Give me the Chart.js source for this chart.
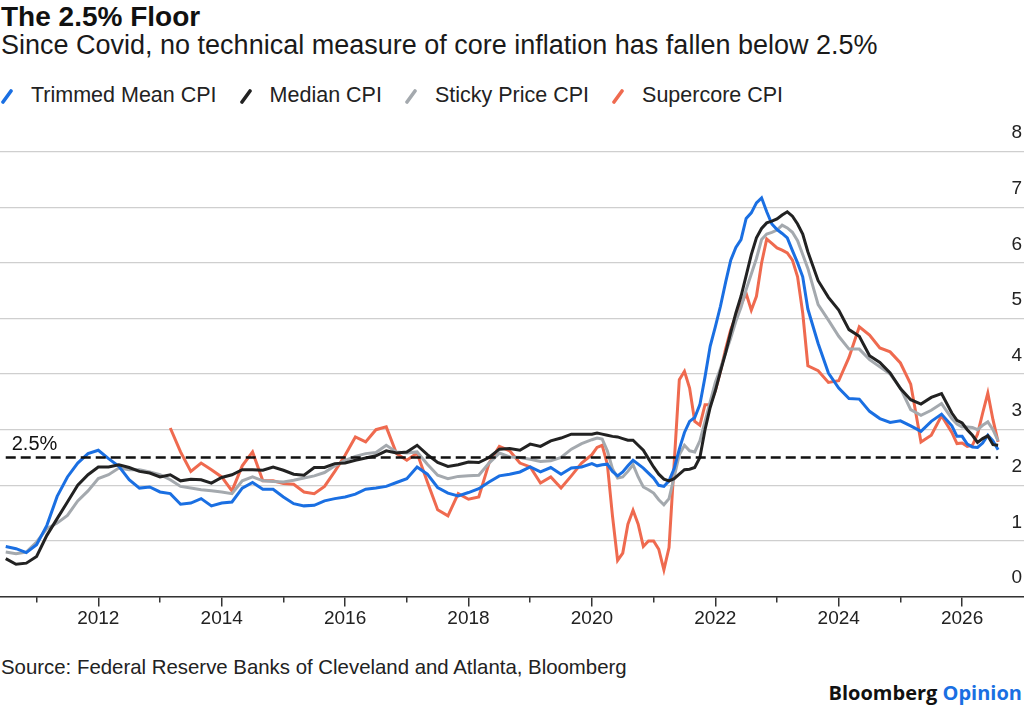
<!DOCTYPE html>
<html>
<head>
<meta charset="utf-8">
<script src="https://cdn.jsdelivr.net/npm/chart.js@4.4.1/dist/chart.umd.min.js"></script>
<style>
  html, body { margin: 0; padding: 0; background: #fff; }
  body { width: 1024px; height: 711px; position: relative; overflow: hidden;
         font-family: "Liberation Sans", Arial, sans-serif; color: #111; }
  #title { position: absolute; left: 1px; top: 3px; font-size: 28px; font-weight: bold; line-height: 28px; }
  #subtitle { position: absolute; left: 1px; top: 32px; font-size: 27px; line-height: 27px; color: #1a1a1a; }
  #legend { position: absolute; left: 1px; top: 85px; display: flex; font-size: 21.5px; line-height: 21.5px; color: #222; }
  #legend .item { display: flex; align-items: center; margin-right: 23px; }
  #legend svg { margin-right: 18px; }
  #wrap { position: absolute; left: 0; top: 120px; width: 1024px; height: 530px; }
  #source { position: absolute; left: 1px; top: 657px; font-size: 20.4px; line-height: 20.4px; color: #222; }
  #brand { position: absolute; right: 2px; top: 683px; font-family: "Open Sans", Lato, sans-serif;
           font-weight: bold; font-size: 20px; line-height: 20px; color: #111; }
  #brand span { color: #1a6fe2; }
</style>
</head>
<body>
<div id="title">The 2.5% Floor</div>
<div id="subtitle">Since Covid, no technical measure of core inflation has fallen below 2.5%</div>
<div id="legend"></div>
<div id="wrap"><canvas id="chart" width="1024" height="530"></canvas></div>
<div id="source">Source: Federal Reserve Banks of Cleveland and Atlanta, Bloomberg</div>
<div id="brand">Bloomberg <span>Opinion</span></div>
<script>
// sample dates (every other month, monthly through the Covid swing and the latest year)
const dates = [
  '2010-07', '2010-09', '2010-11',
  '2011-01', '2011-03', '2011-05', '2011-07', '2011-09', '2011-11',
  '2012-01', '2012-03', '2012-05', '2012-07', '2012-09', '2012-11',
  '2013-01', '2013-03', '2013-05', '2013-07', '2013-09', '2013-11',
  '2014-01', '2014-03', '2014-05', '2014-07', '2014-09', '2014-11',
  '2015-01', '2015-03', '2015-05', '2015-07', '2015-09', '2015-11',
  '2016-01', '2016-03', '2016-05', '2016-07', '2016-09', '2016-11',
  '2017-01', '2017-03', '2017-05', '2017-07', '2017-09', '2017-11',
  '2018-01', '2018-03', '2018-05', '2018-07', '2018-09', '2018-11',
  '2019-01', '2019-03', '2019-05', '2019-07', '2019-09', '2019-11',
  '2020-01', '2020-02', '2020-03', '2020-04', '2020-05', '2020-06',
  '2020-07', '2020-08', '2020-09', '2020-10', '2020-11', '2020-12',
  '2021-01', '2021-02', '2021-03', '2021-04', '2021-05', '2021-06',
  '2021-07', '2021-08', '2021-09', '2021-10', '2021-11', '2021-12',
  '2022-01', '2022-02', '2022-03', '2022-04', '2022-05', '2022-06',
  '2022-07', '2022-08', '2022-09', '2022-10', '2022-11', '2022-12',
  '2023-01', '2023-02', '2023-03', '2023-04', '2023-05', '2023-06',
  '2023-07', '2023-09', '2023-11',
  '2024-01', '2024-03', '2024-05', '2024-07', '2024-09', '2024-11',
  '2025-01', '2025-03', '2025-05', '2025-07', '2025-09',
  '2025-11', '2025-12', '2026-01', '2026-02', '2026-03', '2026-04',
  '2026-05', '2026-06', '2026-07', '2026-08'
];

const trimmedMean = [
  0.90, 0.86, 0.79,
  0.93, 1.28, 1.80, 2.15, 2.40, 2.57,
  2.63, 2.48, 2.34, 2.10, 1.95, 1.97,
  1.88, 1.85, 1.66, 1.68, 1.76, 1.63,
  1.68, 1.70, 1.95, 2.05, 1.93, 1.93,
  1.79, 1.67, 1.63, 1.64, 1.72, 1.76,
  1.79, 1.84, 1.93, 1.95, 1.98, 2.05,
  2.12, 2.33, 2.20, 1.96, 1.86, 1.81,
  1.87, 1.94, 2.06, 2.17, 2.20, 2.24,
  2.33, 2.24, 2.32, 2.20, 2.31, 2.33,
  2.39, 2.35, 2.37, 2.38, 2.25, 2.17, 2.24, 2.35, 2.45, 2.38, 2.31, 2.22,
  2.13, 2.00, 1.98, 2.08, 2.30, 2.65, 2.95, 3.15, 3.22, 3.45, 3.95, 4.50,
  4.85, 5.22, 5.65, 6.05, 6.28, 6.42, 6.80, 6.90, 7.08, 7.17, 6.92, 6.70,
  6.60, 6.53, 6.45, 6.22, 6.00, 5.75,
  5.17, 4.55, 4.02,
  3.75, 3.56, 3.55, 3.33, 3.20, 3.13,
  3.16, 3.07, 2.97, 3.15, 3.28,
  3.07, 2.88, 2.88, 2.74, 2.69, 2.68, 2.76, 2.90, 2.80, 2.64
];

const medianCpi = [
  0.68, 0.58, 0.60,
  0.72, 1.10, 1.40, 1.70, 2.00, 2.19,
  2.33, 2.33, 2.37, 2.32, 2.25, 2.22,
  2.15, 2.19, 2.08, 2.11, 2.10, 2.04,
  2.14, 2.19, 2.28, 2.28, 2.27, 2.33,
  2.27, 2.20, 2.18, 2.32, 2.32, 2.39,
  2.40, 2.45, 2.49, 2.53, 2.62, 2.58,
  2.60, 2.72, 2.55, 2.41, 2.34, 2.37,
  2.42, 2.41, 2.50, 2.65, 2.66, 2.63,
  2.74, 2.70, 2.80, 2.85, 2.92, 2.92,
  2.92, 2.94, 2.92, 2.90, 2.88, 2.87, 2.84, 2.81, 2.81, 2.72, 2.63, 2.48,
  2.33, 2.20, 2.11, 2.08, 2.12, 2.20, 2.28, 2.29, 2.32, 2.50, 3.00, 3.40,
  3.70, 4.05, 4.38, 4.75, 5.10, 5.40, 5.77, 6.15, 6.45, 6.62, 6.72, 6.75,
  6.79, 6.86, 6.92, 6.84, 6.70, 6.52,
  6.20, 5.68, 5.38,
  5.15, 4.80, 4.68, 4.33, 4.21, 4.02,
  3.74, 3.54, 3.46, 3.58, 3.65,
  3.30, 3.17, 3.12, 3.00, 2.90, 2.77, 2.84, 2.89, 2.73, 2.72
];

const stickyPrice = [
  0.80, 0.77, 0.80,
  0.98, 1.22, 1.32, 1.46, 1.72, 1.90,
  2.12, 2.19, 2.31, 2.28, 2.28, 2.24,
  2.19, 2.10, 1.98, 1.95, 1.92, 1.90,
  1.88, 1.85, 2.08, 2.15, 2.08, 2.07,
  2.06, 2.09, 2.13, 2.17, 2.23, 2.35,
  2.45, 2.52, 2.57, 2.59, 2.72, 2.60,
  2.58, 2.60, 2.38, 2.18, 2.12, 2.16,
  2.17, 2.18, 2.40, 2.58, 2.51, 2.50,
  2.47, 2.43, 2.44, 2.50, 2.65, 2.75,
  2.82, 2.85, 2.83, 2.62, 2.30, 2.13, 2.15, 2.25, 2.37, 2.15, 1.97, 1.92,
  1.86, 1.74, 1.65, 1.76, 2.15, 2.55, 2.72, 2.62, 2.60, 2.80, 3.15, 3.50,
  3.85, 4.10, 4.38, 4.65, 4.95, 5.20, 5.52, 5.80, 6.08, 6.42, 6.52, 6.55,
  6.59, 6.68, 6.63, 6.55, 6.40, 6.15,
  5.90, 5.25, 4.97,
  4.68, 4.45, 4.45, 4.26, 4.13, 4.00,
  3.75, 3.36, 3.26, 3.35, 3.47,
  3.20, 3.10, 3.05, 3.05, 3.04, 3.00, 3.08, 3.14, 3.00, 2.80
];

const supercore = [
  null, null, null,
  null, null, null, null, null, null,
  null, null, null, null, null, null,
  null, 3.03, 2.60, 2.25, 2.40, 2.28,
  2.15, 1.90, 2.35, 2.60, 2.08, 2.08,
  2.03, 2.02, 1.88, 1.85, 1.98, 2.25,
  2.54, 2.87, 2.78, 3.00, 3.05, 2.57,
  2.45, 2.58, 2.06, 1.56, 1.45, 1.85,
  1.75, 1.79, 2.40, 2.70, 2.62, 2.40,
  2.33, 2.04, 2.15, 1.95, 2.17, 2.40,
  2.55, 2.68, 2.72, 2.38, 1.45, 0.65, 0.78, 1.30, 1.55, 1.30, 0.90, 1.00,
  1.00, 0.85, 0.48, 0.88, 2.40, 3.90, 4.05, 3.75, 3.15, 3.08, 3.45, 3.45,
  3.70, 4.05, 4.45, 4.80, 5.05, 5.25, 5.45, 5.15, 5.40, 6.00, 6.43, 6.35,
  6.27, 6.23, 6.18, 6.05, 5.75, 5.10,
  4.15, 4.06, 3.85,
  3.88, 4.30, 4.85, 4.70, 4.47, 4.40,
  4.20, 3.82, 2.78, 2.90, 3.25,
  2.95, 2.75, 2.76, 2.70, 2.72, 2.92, 3.30, 3.66, 3.18, 2.78
];

const floorLevel = 2.5;
const floorLabel = '2.5%';
const majorYears = [2012, 2014, 2016, 2018, 2020, 2022, 2024, 2026];
const minorYears = [2011, 2013, 2015, 2017, 2019, 2021, 2023, 2025];

const seriesNames = ['Trimmed Mean CPI', 'Median CPI', 'Sticky Price CPI', 'Supercore CPI'];
const seriesValues = [trimmedMean, medianCpi, stickyPrice, supercore];
const seriesColors = ['#1a6fe2', '#222222', '#a4a9ae', '#ef6a4f'];
// drawing order, top first: median, trimmed, sticky, supercore
const drawOrder = [1, 0, 2, 3];

function toYear(d) {
  var parts = d.split('-');
  return Number(parts[0]) + (Number(parts[1]) - 1) / 12;
}

function makePoints(values) {
  return dates.map(function (d, i) { return { x: toYear(d), y: values[i] }; });
}

// legend
var legend = document.getElementById('legend');
seriesNames.forEach(function (name, i) {
  var item = document.createElement('div');
  item.className = 'item';
  item.innerHTML = '<svg width="12" height="16" viewBox="0 0 12 16">' +
    '<line x1="2" y1="14" x2="10" y2="3" stroke="' + seriesColors[i] +
    '" stroke-width="3.6" stroke-linecap="round"/></svg><span>' + name + '</span>';
  legend.appendChild(item);
});

var datasets = [{
  label: 'floor',
  data: [{ x: toYear(dates[0]), y: floorLevel }, { x: toYear(dates[dates.length - 1]), y: floorLevel }],
  borderColor: '#111',
  borderWidth: 2.5,
  borderDash: [10, 5],
  pointRadius: 0
}];
drawOrder.forEach(function (i) {
  datasets.push({
    label: seriesNames[i],
    data: makePoints(seriesValues[i]),
    borderColor: seriesColors[i],
    borderWidth: 3,
    pointRadius: 0,
    tension: 0,
    spanGaps: false
  });
});

const floorText = {
  id: 'floorText',
  afterDatasetsDraw: function (chart) {
    var ctx = chart.ctx;
    var x = chart.scales.x.getPixelForValue(toYear(dates[0]));
    var y = chart.scales.y.getPixelForValue(floorLevel);
    ctx.save();
    ctx.font = '20px "Liberation Sans", Arial, sans-serif';
    ctx.fillStyle = '#111';
    ctx.textBaseline = 'alphabetic';
    ctx.fillText(floorLabel, x + 6, y - 8);
    ctx.restore();
  }
};

const xMin = 2010.407;
const xMax = 2027.003;

new Chart(document.getElementById('chart'), {
  type: 'line',
  data: { datasets: datasets },
  options: {
    responsive: false,
    animation: false,
    layout: { padding: { top: 31.7, left: 0, right: 0, bottom: 0 } },
    plugins: { legend: { display: false }, tooltip: { enabled: false } },
    scales: {
      x: {
        type: 'linear', position: 'bottom', weight: 1,
        min: xMin, max: xMax,
        afterBuildTicks: function (s) { s.ticks = majorYears.map(function (v) { return { value: v }; }); },
        afterFit: function (s) { s.height = 53.5; },
        grid: { drawOnChartArea: false, drawTicks: true, tickLength: 10, color: '#333', lineWidth: 1.5 },
        border: { display: true, color: '#333', width: 1.5 },
        ticks: {
          autoSkip: false, maxRotation: 0, padding: 1, color: '#222',
          font: { family: '"Liberation Sans", Arial, sans-serif', size: 19 },
          callback: function (v) { return String(v); }
        }
      },
      xMinor: {
        type: 'linear', position: 'bottom', weight: 0,
        min: xMin, max: xMax,
        afterBuildTicks: function (s) { s.ticks = minorYears.map(function (v) { return { value: v }; }); },
        afterFit: function (s) { s.height = 0; },
        grid: { drawOnChartArea: false, drawTicks: true, tickLength: 6, color: '#333', lineWidth: 1.5 },
        border: { display: false },
        ticks: { display: false }
      },
      y: {
        position: 'right', min: 0, max: 8,
        afterFit: function (s) { s.width = 0; },
        grid: { color: '#cfcfcf', lineWidth: 1.3, drawTicks: false },
        border: { display: false },
        ticks: {
          stepSize: 1, mirror: true, padding: -2, labelOffset: -18.5, color: '#222',
          font: { family: '"Liberation Sans", Arial, sans-serif', size: 19 }
        }
      }
    }
  },
  plugins: [floorText]
});
</script>
</body>
</html>
